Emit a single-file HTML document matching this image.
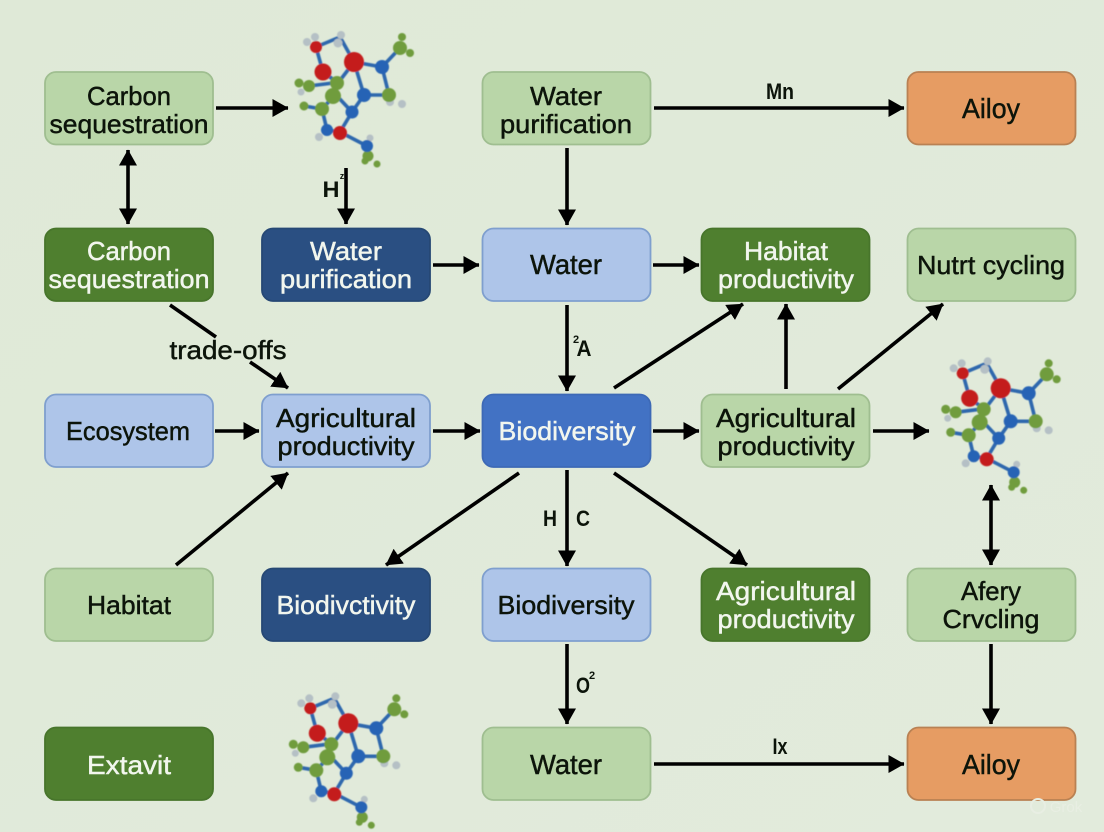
<!DOCTYPE html>
<html><head><meta charset="utf-8"><style>
html,body{margin:0;padding:0;width:1104px;height:832px;overflow:hidden;background:#e0e9d8}
svg{display:block}
text{font-family:"Liberation Sans",sans-serif;font-size:26px;text-anchor:middle;fill:#0c140a;stroke:#0c140a;stroke-width:.45}
.o{font-size:28px}
.w{fill:#f2f6ee;stroke:#f2f6ee}
.s{font-size:22px;font-weight:bold;stroke:none}
.a{stroke:#000;stroke-width:3.6;fill:none}
.n{stroke-width:1.8}
.lg{fill:#b9d6a8;stroke:#9fbe90}
.dg{fill:#4f7f2f;stroke:#47752b}
.nv{fill:#2a4f82;stroke:#264874}
.lb{fill:#aec5e9;stroke:#7f9fce}
.bl{fill:#4272c4;stroke:#3d69b6}
.or{fill:#e69c63;stroke:#b98153}
.b{stroke:#2e68ad;stroke-width:3.6}
</style></head><body>
<svg width="1104" height="832" viewBox="0 0 1104 832" xmlns="http://www.w3.org/2000/svg">
<defs>
<linearGradient id="bg" x1="0" y1="0" x2="1" y2="1"><stop offset="0" stop-color="#dfe9d7"/><stop offset="1" stop-color="#e2ebdc"/></linearGradient>
<filter id="bl" x="-10%" y="-10%" width="120%" height="120%"><feGaussianBlur stdDeviation=".5"/></filter>
<marker id="m" viewBox="0 0 16 18" refX="15.5" refY="9" markerWidth="16" markerHeight="18" markerUnits="userSpaceOnUse" orient="auto-start-reverse"><path d="M0 0L16 9L0 18Z" fill="#000"/></marker>
<g id="mol" filter="url(#bl)">
<g class="b" fill="none">
<path d="M36 27L43 52M36 27L60 17M60 17L74 42M43 52L58 63M74 42L58 63M74 42L102 47M102 47L120 28M74 42L84 75M102 47L109 75M84 75L109 75M84 75L72 92M57 76L72 92M54 76L42 89M42 89L47 110M72 92L60 112M47 110L60 112M60 112L87 126M53 63L29 66M42 89L24 86"/>
</g>
<g fill="#b5c0c5"><circle cx="27" cy="22" r="4"/><circle cx="35" cy="17" r="4"/><circle cx="61" cy="15" r="4"/><circle cx="58" cy="23" r="4.5"/><circle cx="110" cy="82" r="4"/><circle cx="122" cy="84" r="4"/><circle cx="39" cy="117" r="4"/><circle cx="90" cy="118" r="3.5"/><circle cx="21" cy="72" r="3.5"/></g>
<g fill="#6f9c3c"><circle cx="122" cy="17" r="4"/><circle cx="130" cy="33" r="4"/><circle cx="120" cy="28" r="7"/><circle cx="57" cy="63" r="7"/><circle cx="53" cy="76" r="8"/><circle cx="109" cy="75" r="7"/><circle cx="42" cy="89" r="7"/><circle cx="24" cy="86" r="4.5"/><circle cx="29" cy="66" r="6"/><circle cx="19" cy="63" r="4.5"/><circle cx="88" cy="136" r="5.5"/><circle cx="85" cy="141" r="3.5"/><circle cx="97" cy="144" r="3.5"/></g>
<g fill="#2563b5"><circle cx="102" cy="47" r="7"/><circle cx="84" cy="75" r="7"/><circle cx="72" cy="92" r="6.5"/><circle cx="47" cy="110" r="6"/><circle cx="87" cy="126" r="6"/></g>
<g fill="#c41a1a"><circle cx="36" cy="27" r="6"/><circle cx="43" cy="52" r="8.5"/><circle cx="74" cy="42" r="10"/><circle cx="60" cy="113" r="7"/></g>
</g>
</defs>
<rect width="1104" height="832" fill="url(#bg)"/>

<!-- nodes -->
<g class="n">
<rect class="lg" x="45" y="72" width="168" height="72.500" rx="11"/>
<rect class="lg" x="482.500" y="72" width="168" height="72.500" rx="11"/>
<rect class="or" x="907.500" y="72" width="168" height="72.500" rx="11"/>
<rect class="dg" x="45" y="228.500" width="168" height="72.500" rx="11"/>
<rect class="nv" x="262" y="228.500" width="168" height="72.500" rx="11"/>
<rect class="lb" x="482.500" y="228.500" width="168" height="72.500" rx="11"/>
<rect class="dg" x="701.500" y="228.500" width="168" height="72.500" rx="11"/>
<rect class="lg" x="907.500" y="228.500" width="168" height="72.500" rx="11"/>
<rect class="lb" x="45" y="394.500" width="168" height="72.500" rx="11"/>
<rect class="lb" x="262" y="394.500" width="168" height="72.500" rx="11"/>
<rect class="bl" x="482.500" y="394.500" width="168" height="72.500" rx="11"/>
<rect class="lg" x="701.500" y="394.500" width="168" height="72.500" rx="11"/>
<rect class="lg" x="45" y="568.500" width="168" height="72.500" rx="11"/>
<rect class="nv" x="262" y="568.500" width="168" height="72.500" rx="11"/>
<rect class="lb" x="482.500" y="568.500" width="168" height="72.500" rx="11"/>
<rect class="dg" x="701.500" y="568.500" width="168" height="72.500" rx="11"/>
<rect class="lg" x="907.500" y="568.500" width="168" height="72.500" rx="11"/>
<rect class="dg" x="45" y="727.500" width="168" height="72.500" rx="11"/>
<rect class="lg" x="482.500" y="727.500" width="168" height="72.500" rx="11"/>
<rect class="or" x="907.500" y="727.500" width="168" height="72.500" rx="11"/>
</g>

<!-- connectors -->
<g class="a">
<path d="M216 108H288" marker-end="url(#m)"/>
<path d="M128 150V224" marker-start="url(#m)" marker-end="url(#m)"/>
<path d="M346 168V224" marker-end="url(#m)"/>
<path d="M654 108H904" marker-end="url(#m)"/>
<path d="M567 148V225" marker-end="url(#m)"/>
<path d="M433 265H479" marker-end="url(#m)"/>
<path d="M653 265H699" marker-end="url(#m)"/>
<path d="M567 305V391" marker-end="url(#m)"/>
<path d="M170 305L216 337"/>
<path d="M250 362L288 388" marker-end="url(#m)"/>
<path d="M215 431H259" marker-end="url(#m)"/>
<path d="M433 431H480" marker-end="url(#m)"/>
<path d="M653 431H699" marker-end="url(#m)"/>
<path d="M873 431H929" marker-end="url(#m)"/>
<path d="M176 565L288 473" marker-end="url(#m)"/>
<path d="M519 473L386 565" marker-end="url(#m)"/>
<path d="M567 470V566" marker-end="url(#m)"/>
<path d="M614 473L747 565" marker-end="url(#m)"/>
<path d="M614 388L743 304" marker-end="url(#m)"/>
<path d="M786 389V304" marker-end="url(#m)"/>
<path d="M838 389L943 304" marker-end="url(#m)"/>
<path d="M991 485V565" marker-start="url(#m)" marker-end="url(#m)"/>
<path d="M991 644V724" marker-end="url(#m)"/>
<path d="M567 644V724" marker-end="url(#m)"/>
<path d="M654 764H904" marker-end="url(#m)"/>
</g>

<!-- molecules -->
<use href="#mol" x="280" y="20"/>
<use href="#mol" x="926.7" y="346.3"/>
<use href="#mol" x="274.3" y="681.3"/>

<!-- labels -->
<text x="129" y="105" textLength="84" lengthAdjust="spacingAndGlyphs">Carbon</text>
<text x="129" y="133" textLength="159" lengthAdjust="spacingAndGlyphs">sequestration</text>
<text x="566" y="105" textLength="72" lengthAdjust="spacingAndGlyphs">Water</text>
<text x="566" y="133" textLength="132" lengthAdjust="spacingAndGlyphs">purification</text>
<text class="o" x="991" y="118" textLength="58" lengthAdjust="spacingAndGlyphs">Ailoy</text>
<text class="w" x="129" y="260" textLength="84" lengthAdjust="spacingAndGlyphs">Carbon</text>
<text class="w" x="129" y="288" textLength="161" lengthAdjust="spacingAndGlyphs">sequestration</text>
<text class="w" x="346" y="260" textLength="72" lengthAdjust="spacingAndGlyphs">Water</text>
<text class="w" x="346" y="288" textLength="132" lengthAdjust="spacingAndGlyphs">purification</text>
<text class="o" x="566" y="274" textLength="72" lengthAdjust="spacingAndGlyphs">Water</text>
<text class="w" x="786" y="260" textLength="84" lengthAdjust="spacingAndGlyphs">Habitat</text>
<text class="w" x="786" y="288" textLength="136" lengthAdjust="spacingAndGlyphs">productivity</text>
<text x="991" y="274" textLength="148" lengthAdjust="spacingAndGlyphs">Nutrt cycling</text>
<text x="228" y="359" textLength="117" lengthAdjust="spacingAndGlyphs">trade-offs</text>
<text class="s" x="331" y="197" textLength="17" lengthAdjust="spacingAndGlyphs">H</text>
<text x="342" y="179" style="font-size:9px;font-weight:bold;stroke:none">z</text>
<text class="s" x="780" y="99" textLength="28" lengthAdjust="spacingAndGlyphs">Mn</text>
<text class="s" x="584" y="356" textLength="15" lengthAdjust="spacingAndGlyphs">A</text>
<text x="576" y="343" style="font-size:11px;font-weight:bold;stroke:none">2</text>
<text class="o" x="128" y="440" textLength="124" lengthAdjust="spacingAndGlyphs" style="font-size:26px">Ecosystem</text>
<text x="346" y="427" textLength="140" lengthAdjust="spacingAndGlyphs">Agricultural</text>
<text x="346" y="455" textLength="137" lengthAdjust="spacingAndGlyphs">productivity</text>
<text class="w" x="567" y="440" textLength="137" lengthAdjust="spacingAndGlyphs">Biodiversity</text>
<text x="786" y="427" textLength="140" lengthAdjust="spacingAndGlyphs">Agricultural</text>
<text x="786" y="455" textLength="137" lengthAdjust="spacingAndGlyphs">productivity</text>
<text class="s" x="550" y="526" textLength="14" lengthAdjust="spacingAndGlyphs">H</text>
<text class="s" x="583" y="526" textLength="14" lengthAdjust="spacingAndGlyphs">C</text>
<text x="129" y="614" textLength="84" lengthAdjust="spacingAndGlyphs">Habitat</text>
<text class="w" x="346" y="614" textLength="139" lengthAdjust="spacingAndGlyphs">Biodivctivity</text>
<text x="566" y="614" textLength="137" lengthAdjust="spacingAndGlyphs">Biodiversity</text>
<text class="w" x="786" y="600" textLength="140" lengthAdjust="spacingAndGlyphs">Agricultural</text>
<text class="w" x="786" y="628" textLength="137" lengthAdjust="spacingAndGlyphs">productivity</text>
<text x="991" y="600" textLength="60" lengthAdjust="spacingAndGlyphs">Afery</text>
<text x="991" y="628" textLength="97" lengthAdjust="spacingAndGlyphs">Crvcling</text>
<text class="s" x="583" y="693" textLength="14" lengthAdjust="spacingAndGlyphs">O</text>
<text x="592" y="679" style="font-size:11px;font-weight:bold;stroke:none">2</text>
<text class="w" x="129" y="774" textLength="84" lengthAdjust="spacingAndGlyphs">Extavit</text>
<text class="o" x="566" y="774" textLength="72" lengthAdjust="spacingAndGlyphs">Water</text>
<text class="s" x="780" y="754" textLength="15" lengthAdjust="spacingAndGlyphs">Ix</text>
<text class="o" x="991" y="774" textLength="58" lengthAdjust="spacingAndGlyphs">Ailoy</text>
<circle cx="1038" cy="806" r="7" fill="none" stroke="#e8eee3" stroke-width="2"/>
<text x="1066" y="812" style="font-size:15px;fill:#e8eee3;stroke:none">Grok</text>
</svg>
</body></html>
